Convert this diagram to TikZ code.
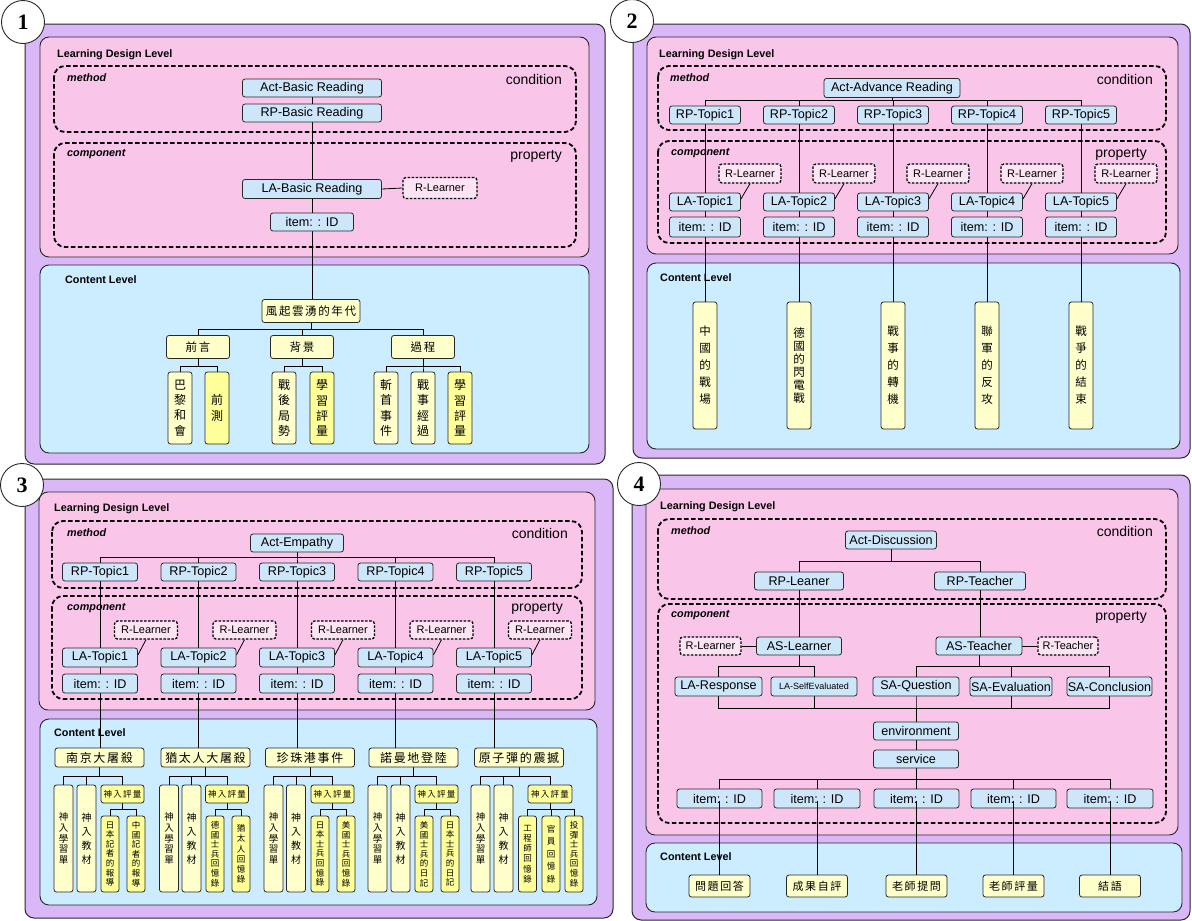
\documentclass[tikz,border=0pt]{standalone}
\usepackage{fontspec}
\setmainfont{Liberation Sans}
\newfontfamily\cjk{Noto Sans CJK TC}
\newfontfamily\cjksp[LetterSpace=14]{Noto Sans CJK TC}
\newfontfamily\numfont{Liberation Serif}
\usetikzlibrary{calc}
\definecolor{purp}{RGB}{218,183,247}
\definecolor{pinkc}{RGB}{249,198,233}
\definecolor{contc}{RGB}{204,236,255}
\definecolor{nodec}{RGB}{205,230,250}
\definecolor{rlc}{RGB}{252,228,244}
\definecolor{paley}{RGB}{255,255,204}
\definecolor{brighty}{RGB}{255,255,153}
\definecolor{edgec}{RGB}{40,40,40}
\pgfdeclarelayer{frames}\pgfdeclarelayer{lines}\pgfsetlayers{frames,lines,main}
\tikzset{
 outerbox/.style={fill=purp, draw=edgec, line width=1pt, rounded corners=9pt},
 pinkbox/.style={fill=pinkc, draw=edgec, line width=0.9pt, rounded corners=9pt},
 contbox/.style={fill=contc, draw=edgec, line width=0.9pt, rounded corners=9pt},
 dashbox/.style={draw=black, line width=1.8pt, dash pattern=on 4.5pt off 2.5pt, rounded corners=11pt},
 numc/.style={circle, draw=edgec, fill=white, line width=0.9pt, minimum size=43pt, inner sep=0pt, font=\numfont\bfseries\fontsize{22}{22}\selectfont},
 lvl/.style={anchor=west, font=\bfseries\fontsize{10.8}{12}\selectfont, inner sep=0pt},
 ml/.style={anchor=west, font=\bfseries\itshape\fontsize{10.8}{12}\selectfont, inner sep=0pt},
 cond/.style={anchor=east, font=\fontsize{14}{16}\selectfont, inner sep=0pt},
 bn/.style={rectangle, rounded corners=2.5pt, fill=nodec, draw=edgec, line width=0.8pt, inner sep=0pt, minimum height=18pt, font=\fontsize{12.6}{14}\selectfont},
 rl/.style={rectangle, rounded corners=3pt, fill=rlc, draw=black, line width=1.3pt, dash pattern=on 2.5pt off 1.5pt, inner sep=0pt, minimum height=18pt, font=\fontsize{11}{12}\selectfont},
 yb/.style={rectangle, rounded corners=2.5pt, fill=paley, draw=edgec, line width=0.8pt, inner sep=0pt, align=center},
 ybb/.style={yb, fill=brighty},
 hz/.style={minimum height=23pt, font=\cjksp\fontsize{11.5}{13}\selectfont},
 vb1/.style={minimum width=24pt, minimum height=72pt, font=\cjk\fontsize{12}{15.3}\selectfont},
 conn/.style={draw=black, line width=0.8pt},
}
\begin{document}
\begin{tikzpicture}[x=1pt,y=-1pt]
\useasboundingbox (0,0) rectangle (1192,921);
% ================= frames
\begin{pgfonlayer}{frames}
\draw[outerbox] (25,24) rectangle (605,464);
\draw[pinkbox] (40,37) rectangle (589,257);
\draw[dashbox] (54,66) rectangle (576,132);
\draw[dashbox] (54,143) rectangle (576,247);
\draw[contbox] (40,265) rectangle (589,453);
\draw[outerbox] (633,24) rectangle (1190,458);
\draw[pinkbox] (647,37) rectangle (1178,254);
\draw[dashbox] (658,66) rectangle (1166,130);
\draw[dashbox] (658,141) rectangle (1166,243);
\draw[contbox] (647,263) rectangle (1180,449);
\draw[outerbox] (25,479) rectangle (613,918);
\draw[pinkbox] (39,492) rectangle (595,710);
\draw[dashbox] (52,521) rectangle (582,588);
\draw[dashbox] (52,596) rectangle (582,699);
\draw[contbox] (40,719) rectangle (597,905);
\draw[outerbox] (632,475) rectangle (1190,920);
\draw[pinkbox] (646,489) rectangle (1178,835);
\draw[dashbox] (658,519) rectangle (1166,599);
\draw[dashbox] (658,604) rectangle (1166,823);
\draw[contbox] (646,843) rectangle (1182,912);
\end{pgfonlayer}
% ================= panel 1
\node[numc] (c1) at (23,22) {1};
\node[lvl] (ldl1) at (57,55) {Learning Design Level};
\node[ml] (m1) at (67,78) {method};
\node[cond] (cd1) at (562,79) {condition};
\node[ml] (cp1) at (67,154) {component};
\node[cond] (pr1) at (562,156) {property};
\node[lvl] (cl1) at (65,280) {Content Level};
\node[bn, minimum width=139pt] (act1) at (312,88) {Act-Basic Reading};
\node[bn, minimum width=139pt] (rp1) at (312,113) {RP-Basic Reading};
\node[bn, minimum width=139pt, minimum height=19pt] (la1) at (312,189) {LA-Basic Reading};
\node[rl, minimum width=74pt, minimum height=21pt] (rl1) at (440,188) {R-Learner};
\node[bn, minimum width=83pt] (it1) at (312,222) {item: : ID};
\node[yb, hz, minimum width=98pt] (f1) at (311,311) {風起雲湧的年代};
\node[yb, hz, minimum width=63pt] (q1) at (198,347) {前言};
\node[yb, hz, minimum width=63pt] (q2) at (302,347) {背景};
\node[yb, hz, minimum width=63pt] (q3) at (423,347) {過程};
\node[yb, vb1] (v11) at (180,408) {巴\\黎\\和\\會};
\node[ybb, vb1] (v12) at (217,408) {前\\測};
\node[yb, vb1] (v13) at (284,408) {戰\\後\\局\\勢};
\node[ybb, vb1] (v14) at (322,408) {學\\習\\評\\量};
\node[yb, vb1] (v15) at (386,408) {斬\\首\\事\\件};
\node[yb, vb1] (v16) at (423,408) {戰\\事\\經\\過};
\node[ybb, vb1] (v17) at (460,408) {學\\習\\評\\量};
\begin{pgfonlayer}{lines}
\draw[conn] (act1.south) -- (act1.south |- f1.north);
\draw[conn] (la1.east) -- (rl1.west);
\foreach \k in {q1,q2,q3} \draw[conn] (f1.south) -- ++(0,6.5) -| (\k.north);
\foreach \k in {v11,v12} \draw[conn] (q1.south) -- ++(0,7.5) -| (\k.north);
\foreach \k in {v13,v14} \draw[conn] (q2.south) -- ++(0,7.5) -| (\k.north);
\foreach \k in {v15,v16,v17} \draw[conn] (q3.south) -- ++(0,7.5) -| (\k.north);
\end{pgfonlayer}
% ================= panel 2
\node[numc] (c2) at (632,21) {2};
\node[lvl] (ldl2) at (659,55) {Learning Design Level};
\node[ml] (m2) at (670,78) {method};
\node[cond] (cd2) at (1153,79) {condition};
\node[ml] (cp2) at (671,153) {component};
\node[cond] (pr2) at (1147,154) {property};
\node[lvl] (cl2) at (660,278) {Content Level};
\node[bn, minimum width=136pt, minimum height=19pt] (act2) at (892,88) {Act-Advance Reading};
\foreach \i in {1,...,5} {
 \pgfmathsetmacro\cx{705+94*(\i-1)}
 \node[bn, minimum width=71pt] (rp2\i) at (\cx,115) {RP-Topic\i};
 \node[rl, minimum width=62pt, minimum height=19pt] (rl2\i) at (\cx+45,173.5) {R-Learner};
 \node[bn, minimum width=71pt] (la2\i) at (\cx,202) {LA-Topic\i};
 \node[bn, minimum width=71pt, minimum height=20pt] (it2\i) at (\cx,227) {item: : ID};
}
\tikzset{vb2/.style={minimum width=24pt, minimum height=127pt, font=\cjk\fontsize{11.5}{17}\selectfont}}
\node[yb, vb2] (v21) at (705,365.5) {中\\國\\的\\戰\\場};
\node[yb, vb2, font=\cjk\fontsize{11.5}{13}\selectfont] (v22) at (799,365.5) {德\\國\\的\\閃\\電\\戰};
\node[yb, vb2] (v23) at (893,365.5) {戰\\事\\的\\轉\\機};
\node[yb, vb2] (v24) at (987,365.5) {聯\\軍\\的\\反\\攻};
\node[yb, vb2] (v25) at (1081,365.5) {戰\\爭\\的\\結\\束};
\begin{pgfonlayer}{lines}
\foreach \i in {1,...,5} {
 \draw[conn] (act2.south) -- ++(0,2.5) -| (rp2\i.north);
 \draw[conn] (rp2\i.south) -- (v2\i.north);
 \draw[conn] (rl2\i.south) -- ([yshift=3pt]la2\i.east);
}
\end{pgfonlayer}
% ================= panel 3
\node[numc] (c3) at (22,485) {3};
\node[lvl] (ldl3) at (54,509) {Learning Design Level};
\node[ml] (m3) at (67,533) {method};
\node[cond] (cd3) at (568,533) {condition};
\node[ml] (cp3) at (67,608) {component};
\node[cond] (pr3) at (563,608) {property};
\node[lvl] (cl3) at (54,733) {Content Level};
\node[bn, minimum width=93pt] (act3) at (297,543) {Act-Empathy};
\foreach \i in {1,...,5} {
 \pgfmathsetmacro\cx{100+98.5*(\i-1)}
 \node[bn, minimum width=75pt] (rp3\i) at (\cx,572) {RP-Topic\i};
 \node[rl, minimum width=63pt] (rl3\i) at (\cx+46,630) {R-Learner};
 \node[bn, minimum width=75pt, minimum height=19pt] (la3\i) at (\cx,657.5) {LA-Topic\i};
 \node[bn, minimum width=75pt, minimum height=19pt] (it3\i) at (\cx,683.5) {item: : ID};
}
\tikzset{tb/.style={yb, minimum width=89pt, minimum height=19pt, font=\cjksp\fontsize{12}{13}\selectfont}}
\node[tb] (t31) at (99.5,757.5) {南京大屠殺};
\node[tb] (t32) at (205.5,757.5) {猶太人大屠殺};
\node[tb] (t33) at (310,757.5) {珍珠港事件};
\node[tb] (t34) at (413.5,757.5) {諾曼地登陸};
\node[tb] (t35) at (519,757.5) {原子彈的震撼};
\foreach \i/\a/\b/\e/\w in {1/63.5/86.5/122.5/43, 2/169/191.5/227/43, 3/273.5/296/332.5/43, 4/377.5/400.5/436.5/43, 5/480.5/503.5/550/44} {
 \node[yb, minimum width=19pt, minimum height=107pt, font=\cjk\fontsize{9.5}{10.7}\selectfont] (a3\i) at (\a,838.5) {神\\入\\學\\習\\單};
 \node[yb, minimum width=19pt, minimum height=107pt, font=\cjk\fontsize{10}{14}\selectfont] (b3\i) at (\b,838.5) {神\\入\\教\\材};
 \node[ybb, minimum width=\w pt, minimum height=18pt, font=\cjksp\fontsize{8.5}{10}\selectfont] (e3\i) at (\e,794) {神入評量};
}
\tikzset{sb/.style={ybb, minimum width=18pt, minimum height=76pt, font=\cjk\fontsize{8.5}{9.6}\selectfont}}
\node[sb] (s311) at (110,854) {日\\本\\記\\者\\的\\報\\導};
\node[sb] (s312) at (136,854) {中\\國\\記\\者\\的\\報\\導};
\node[sb] (s321) at (215,854) {德\\國\\士\\兵\\回\\憶\\錄};
\node[sb, font=\cjk\fontsize{8.5}{10.3}\selectfont] (s322) at (241,854) {猶\\太\\人\\回\\憶\\錄};
\node[sb] (s331) at (320,854) {日\\本\\士\\兵\\回\\憶\\錄};
\node[sb] (s332) at (346,854) {美\\國\\士\\兵\\回\\憶\\錄};
\node[sb] (s341) at (424,854) {美\\國\\士\\兵\\的\\日\\記};
\node[sb] (s342) at (450,854) {日\\本\\士\\兵\\的\\日\\記};
\node[sb, font=\cjk\fontsize{8.5}{10.3}\selectfont] (s351) at (527.5,854) {工\\程\\師\\回\\憶\\錄};
\node[sb, font=\cjk\fontsize{8.5}{12.5}\selectfont] (s352) at (551,854) {官\\員\\回\\憶\\錄};
\node[sb] (s353) at (574,854) {投\\彈\\士\\兵\\回\\憶\\錄};
\begin{pgfonlayer}{lines}
\foreach \i in {1,...,5} {
 \draw[conn] (act3.south) -- ++(0,5) -| (rp3\i.north);
 \draw[conn] (rp3\i.south) -- (rp3\i.south |- t3\i.north);
 \draw[conn] (rl3\i.south) -- ([yshift=2.5pt]la3\i.east);
 \foreach \k in {a,b,e} \draw[conn] (t3\i.south) -- ++(0,9) -| (\k3\i.north);
}
\foreach \i in {1,...,4} \foreach \j in {1,2} \draw[conn] (e3\i.south) -- ++(0,6) -| (s3\i\j.north);
\foreach \j in {1,2,3} \draw[conn] (e35.south) -- ++(0,6) -| (s35\j.north);
\end{pgfonlayer}
% ================= panel 4
\node[numc] (c4) at (639,484) {4};
\node[lvl] (ldl4) at (660,507) {Learning Design Level};
\node[ml] (m4) at (671,531) {method};
\node[cond] (cd4) at (1153,531) {condition};
\node[ml] (cp4) at (671,615) {component};
\node[cond] (pr4) at (1147,617) {property};
\node[lvl] (cl4) at (660,857) {Content Level};
\node[bn, minimum width=91pt] (act4) at (891,540) {Act-Discussion};
\node[bn, minimum width=89pt] (rpl) at (799,581) {RP-Leaner};
\node[bn, minimum width=91pt] (rpt) at (980,581) {RP-Teacher};
\node[bn, minimum width=85pt] (asl) at (799,646) {AS-Learner};
\node[rl, minimum width=61pt] (rl4) at (710.5,646) {R-Learner};
\node[bn, minimum width=86pt] (ast) at (979,646) {AS-Teacher};
\node[rl, minimum width=60pt] (rt4) at (1068,646) {R-Teacher};
\node[bn, minimum width=87pt, minimum height=19pt] (lar) at (718.5,686.5) {LA-Response};
\node[bn, minimum width=86pt, minimum height=19pt, font=\fontsize{9}{11}\selectfont] (las) at (814,686.5) {LA-SelfEvaluated};
\node[bn, minimum width=86pt, minimum height=19pt] (saq) at (916,686.5) {SA-Question};
\node[bn, minimum width=82pt, minimum height=19pt] (sae) at (1011,686.5) {SA-Evaluation};
\node[bn, minimum width=85pt, minimum height=19pt] (sac) at (1109.5,686.5) {SA-Conclusion};
\node[bn, minimum width=85pt] (env) at (916,731) {environment};
\node[bn, minimum width=85pt] (srv) at (916,759) {service};
\foreach \i/\x/\w in {1/719.5/85, 2/817/86, 3/916.5/85, 4/1013.5/85, 5/1110/86}
 \node[bn, minimum width=\w pt, minimum height=19pt] (it4\i) at (\x,798.5) {item: : ID};
\tikzset{cb/.style={yb, minimum width=61pt, minimum height=22pt, font=\cjksp\fontsize{11}{13}\selectfont}}
\node[cb] (cc41) at (719.5,886) {問題回答};
\node[cb] (cc42) at (817,886) {成果自評};
\node[cb] (cc43) at (916.5,886) {老師提問};
\node[cb] (cc44) at (1013.5,886) {老師評量};
\node[cb] (cc45) at (1110,886) {結語};
\begin{pgfonlayer}{lines}
\foreach \k in {rpl,rpt} \draw[conn] (act4.south) -- ++(0,12) -| (\k.north);
\draw[conn] (rpl.south) -- (asl.north);
\draw[conn] (rpt.south) -- (rpt.south |- ast.north);
\draw[conn] (rl4.east) -- (asl.west);
\draw[conn] (ast.east) -- (rt4.west);
\foreach \k in {lar,las} \draw[conn] (asl.south) -- ++(0,11) -| (\k.north);
\foreach \k in {saq,sae,sac} \draw[conn] (ast.south) -- ++(0,11) -| (\k.north);
\foreach \k in {lar,las,saq,sae,sac} \draw[conn] (\k.south) -- ++(0,12) -| (env.north);
\draw[conn] (env.south) -- (srv.north);
\foreach \i in {1,...,5} \draw[conn] (srv.south) -- ++(0,11) -| (it4\i.north);
\end{pgfonlayer}
\foreach \i in {1,...,5} \draw[conn] ([yshift=-2pt]it4\i.center) -- (it4\i.center |- cc4\i.north);
\end{tikzpicture}
\end{document}
